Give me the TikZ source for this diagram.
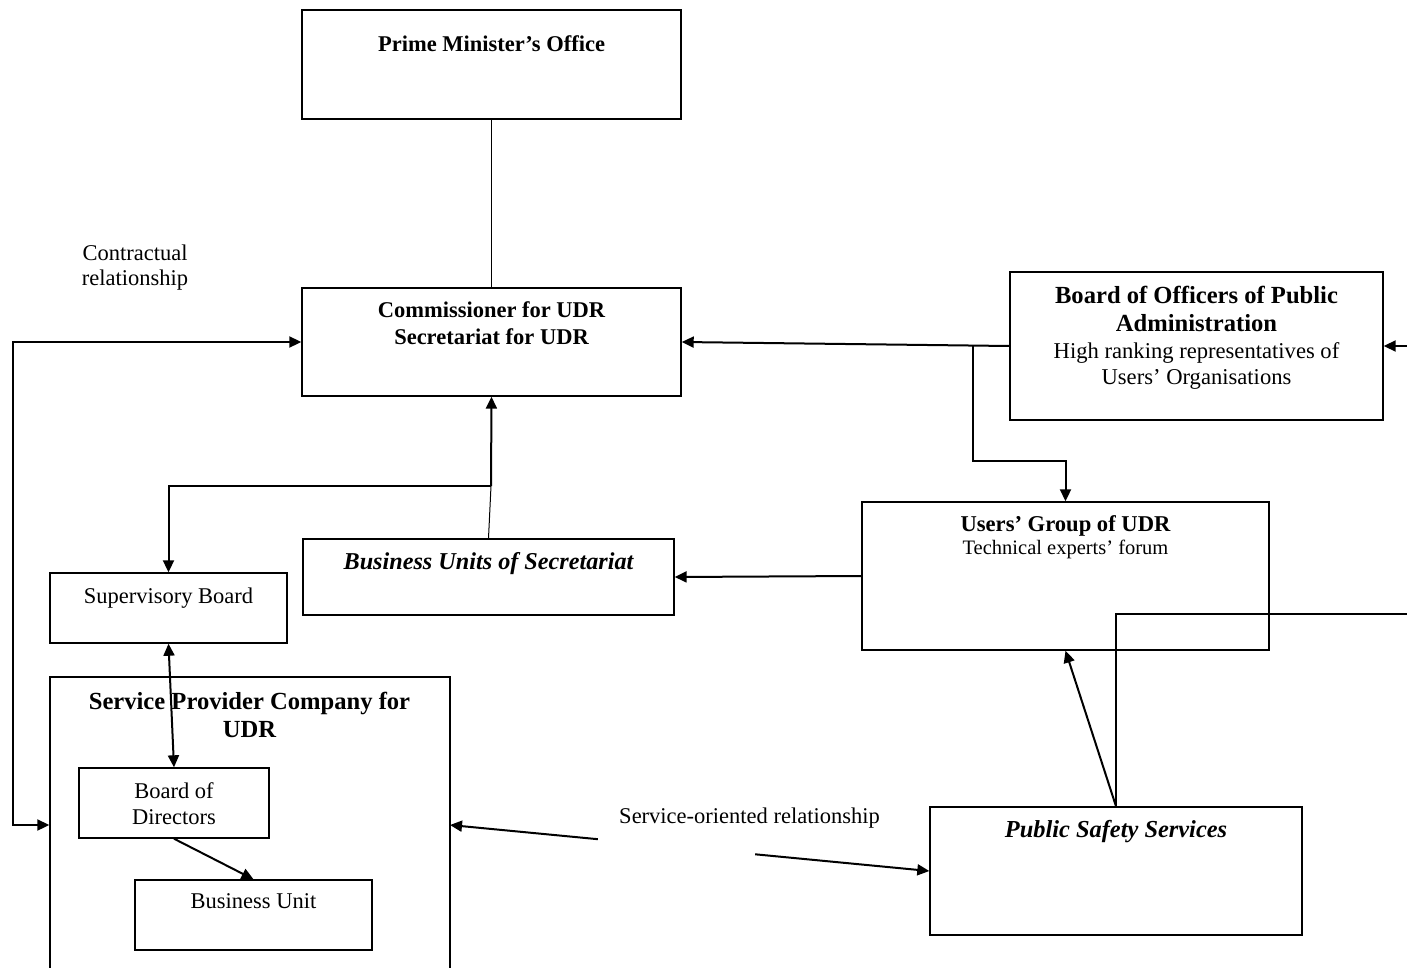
\documentclass[tikz,border=0pt]{standalone}
\usepackage{fontspec}
\setmainfont{Liberation Serif}
\usetikzlibrary{arrows.meta}
\begin{document}
\begin{tikzpicture}[
        x=0.5pt,
        y=-0.5pt,
        box/.style={
            draw,
            line width=0.7pt,
            inner sep=0pt
          },
        boxsize/.style 2 args={minimum width=#1*0.5pt, minimum height=#2*0.5pt},
        txt/.style={anchor=north, inner sep=0pt, align=center,
            font=\fontsize{11.25}{13.3}\selectfont},
        txtb/.style={txt, font=\fontsize{11.25}{13.3}\selectfont\bfseries},
        txtbig/.style={txt, font=\fontsize{12.3}{14.2}\selectfont\bfseries},
        ln/.style={line width=0.8pt},
        thinln/.style={line width=0.5pt},
        arr/.style={line width=1pt, -{Triangle[length=6pt,width=5.5pt]}},
        arrtwo/.style={line width=1pt,
            {Triangle[length=6pt,width=5.5pt]}-{Triangle[length=6pt,width=5.5pt]}}]

        % Page
        \clip (0,0) rectangle (1407,968);

        % Draw boxes
        \node[box, boxsize={379}{109}] (pmo) at (491.5,64.5) {};
        \node[box, boxsize={379}{108}] (comm) at (491.5,342) {};
        \node[box, boxsize={373}{148}] (bopa) at (1196.5,346) {};
        \node[box, boxsize={407}{148}] (ug) at (1065.5,576) {};
        \node[box, boxsize={371}{76}] (bus) at (488.5,577) {};
        \node[box, boxsize={237}{70}] (sb) at (168.5,608) {};
        \node[box, boxsize={400}{340}] (spc) at (250,847) {};
        \node[box, boxsize={190}{70}] (bod) at (174,803) {};
        \node[box, boxsize={237}{70}] (bu) at (253.5,915) {};
        \node[box, boxsize={372}{128}] (pss) at (1116,871) {};

        % Box texts
        \node[txtb] (pmotxt) at (491.5,35.2) {Prime Minister’s Office};
        \node[txtb] (commtxt) at (491.5,301.2) {Commissioner for UDR\\Secretariat for UDR};
        \node[txtbig, font=\fontsize{12.3}{14.15}\selectfont\bfseries] (bopatxt) at (1196.5,285.7)
            {Board of Officers of Public\\Administration};
        \node[txt, font=\fontsize{11.3}{13.15}\selectfont] (bopasub) at (1196.5,342.3)
            {High ranking representatives of\\Users’ Organisations};
        \node[txtb, font=\fontsize{11.3}{13.3}\selectfont\bfseries] (ugtxt) at (1065.5,515.1) {Users’ Group of UDR};
        \node[txt, font=\fontsize{10.25}{12}\selectfont] (ugsub) at (1065.5,539.3) {Technical experts’ forum};
        \node[txtbig, font=\fontsize{12.1}{14}\selectfont\bfseries\itshape] (bustxt) at (488.5,552.3)
            {Business Units of Secretariat};
        \node[txt] (sbtxt) at (168.5,587.3) {Supervisory Board};
        \node[txtbig] (spctxt) at (249.5,691.3) {Service Provider Company for\\UDR};
        \node[txt, font=\fontsize{11.25}{13}\selectfont] (bodtxt) at (174,781.9) {Board of\\Directors};
        \node[txt] (butxt) at (253.5,892.9) {Business Unit};
        \node[txtbig, font=\fontsize{12.2}{14}\selectfont\bfseries\itshape] (psstxt) at (1116,819.9)
            {Public Safety Services};

        % Free labels
        \node[txt, font=\fontsize{11.25}{12.5}\selectfont] (contract) at (135,244.6)
            {Contractual\\relationship};

        % Connectors
        \draw[thinln] (pmo) -- (comm);

        \coordinate (cbend) at (13,825);
        \draw[arrtwo] (comm.west) -| (cbend) -- (cbend -| spc.west);

        \draw[arr] (bopa.west) -- (comm.east);
        \coordinate (bsplit) at (973,346);
        \draw[arr] (bsplit) -- (bsplit |- 0,461) -| (ug.north);
        \coordinate (redge) at (1407,346);
        \draw[arr] (redge) -- (bopa.east);

        \draw[arr] (ug.west) -- (bus.east);

        \coordinate (bjoin) at (491,486);
        \draw[thinln] (bus.north) -- (bjoin);
        \draw[arr] (bjoin) -- (comm.south);
        \draw[arr] (bjoin) -| (sb.north);

        \draw[arrtwo] (sb.south) -- (bod.north);
        \draw[arr] (bod.south) -- (bu.north);

        % Service-oriented relationship
        \coordinate (sin) at (450,825);
        \draw[arrtwo] (sin) -- (pss.west);
        \node[fill=white, inner sep=0pt, minimum width=78.5pt, minimum height=40pt] (mask) at (676.5,830) {};
        \node[txt] (svc) at (749.5,807.9) {Service-oriented relationship};

        \draw[arr] (pss.north) -- (ug.south);
        \coordinate (redge2) at (1407,614);
        \draw[ln] (pss.north) |- (redge2);
    \end{tikzpicture}
\end{document}
